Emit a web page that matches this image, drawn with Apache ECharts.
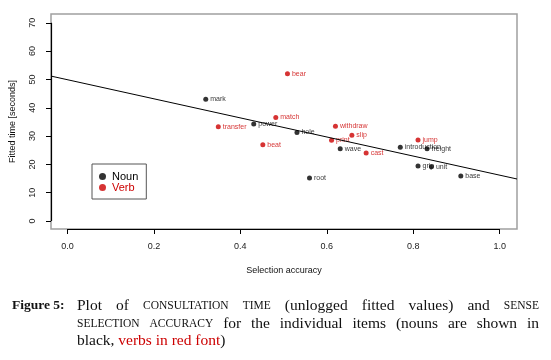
<!DOCTYPE html>
<html>
<head>
<meta charset="utf-8">
<script src="https://cdn.jsdelivr.net/npm/echarts@6/dist/echarts.min.js"></script>
<style>
    html, body { margin: 0; padding: 0; background: #fff; }
    #chart { width: 551px; height: 360px; }
</style>
</head>
<body>
<div id="chart"></div>
<script>
// data
const nounWords = ['mark', 'power', 'hole', 'wave', 'introduction', 'freight', 'grip', 'unit', 'base', 'root'];
const nounX = [0.320, 0.431, 0.531, 0.631, 0.770, 0.832, 0.811, 0.842, 0.910, 0.560];
const nounY = [43.0, 34.3, 31.3, 25.5, 26.1, 25.5, 19.4, 19.2, 15.9, 15.2];

const verbWords = ['transfer', 'match', 'bear', 'withdraw', 'slip', 'print', 'cast', 'jump', 'beat'];
const verbX = [0.349, 0.482, 0.509, 0.620, 0.658, 0.611, 0.691, 0.811, 0.452];
const verbY = [33.3, 36.6, 52.0, 33.5, 30.3, 28.5, 24.0, 28.6, 26.9];

const xTicks = [0, 0.2, 0.4, 0.6, 0.8, 1.0];
const yTicks = [0, 10, 20, 30, 40, 50, 60, 70];

// fitted regression line (intercept, slope)
const fitB0 = 49.9;
const fitB1 = -33.7;

const xMin = -0.038, xMax = 1.04;
const yMin = -2.8, yMax = 73.1;

const RED = '#cc0000';
const SANS = '"Liberation Sans", Arial, sans-serif';
const SERIF = '"Liberation Serif", "DejaVu Serif", serif';

let chart = echarts.init(document.querySelector('#chart'));

function pts(words, xs, ys) {
    return words.map((w, i) => [xs[i], ys[i], w]);
}

// caption: justified lines, words placed by measuring
let measure = document.createElement('canvas').getContext('2d');
function fontStr(s) {
    return (s.bold ? 'bold ' : '') + s.size + 'px ' + SERIF;
}
function captionLine(words, y, x0, x1, justify) {
    let out = [];
    let widths = words.map(w => { measure.font = fontStr(w); return measure.measureText(w.t).width; });
    let total = widths.reduce((a, b) => a + b, 0);
    let gap = justify ? (x1 - x0 - total) / (words.length - 1) : 0;
    let x = x0;
    words.forEach((w, i) => {
        out.push({
            type: 'text', x: x, y: y,
            style: { text: w.t, fill: w.c || '#111', fontSize: w.size, fontWeight: w.bold ? 'bold' : 'normal',
                     fontFamily: SERIF, verticalAlign: 'middle' }
        });
        x += widths[i] + gap;
    });
    return out;
}
const N = 15.5, SC = 11.5;
let line1 = [
    { t: 'Plot', size: N }, { t: 'of', size: N }, { t: 'CONSULTATION', size: SC }, { t: 'TIME', size: SC },
    { t: '(unlogged', size: N }, { t: 'fitted', size: N }, { t: 'values)', size: N }, { t: 'and', size: N },
    { t: 'SENSE', size: SC }
];
let line2 = [
    { t: 'SELECTION', size: SC }, { t: 'ACCURACY', size: SC }, { t: 'for', size: N }, { t: 'the', size: N },
    { t: 'individual', size: N }, { t: 'items', size: N }, { t: '(nouns', size: N }, { t: 'are', size: N },
    { t: 'shown', size: N }, { t: 'in', size: N }
];
let line3 = [
    { t: 'black, ', size: N }, { t: 'verbs in red font', size: N, c: RED }, { t: ')', size: N }
];
let graphics = [].concat(
    captionLine([{ t: 'Figure 5:', size: 13.5, bold: true }], 306, 12, 0, false),
    captionLine(line1, 306, 77, 539, true),
    captionLine(line2, 323.6, 77, 539, true),
    captionLine(line3, 341, 77, 0, false)
);

let option = {
    animation: false,
    textStyle: { fontFamily: SANS },
    grid: {
        left: 49, right: 34, top: 14, bottom: 131,
        show: true, borderColor: '#a0a0a0', borderWidth: 1.5, backgroundColor: '#fff'
    },
    legend: {
        left: 92, top: 164,
        orient: 'vertical',
        borderColor: '#555', borderWidth: 1,
        padding: [7, 8, 6, 7],
        itemWidth: 7, itemHeight: 7, itemGap: 0,
        icon: 'circle',
        textStyle: { fontSize: 11, fontFamily: SANS, padding: [0, 0, 0, 1] },
        data: [
            { name: 'Noun', textStyle: { color: '#000' } },
            { name: 'Verb', textStyle: { color: RED } }
        ]
    },
    xAxis: {
        type: 'value', min: xMin, max: xMax,
        name: 'Selection accuracy', nameLocation: 'middle', nameGap: 37,
        nameTextStyle: { fontSize: 9, color: '#111', fontFamily: SANS },
        splitLine: { show: false },
        axisLine: { show: false, onZero: false },
        axisTick: { show: true, length: 5, customValues: xTicks, lineStyle: { color: '#000' } },
        axisLabel: { customValues: xTicks, margin: 13, fontSize: 9, color: '#222',
                     formatter: v => v.toFixed(1) }
    },
    yAxis: {
        type: 'value', min: yMin, max: yMax,
        name: 'Fitted time [seconds]', nameLocation: 'middle', nameGap: 34,
        nameTextStyle: { fontSize: 9, color: '#111', fontFamily: SANS },
        splitLine: { show: false },
        axisLine: { show: false, onZero: false },
        axisTick: { show: true, length: 5, customValues: yTicks, lineStyle: { color: '#000' } },
        axisLabel: { customValues: yTicks, margin: 14, fontSize: 9, color: '#222', rotate: 90 }
    },
    series: [
        {
            name: 'fit', type: 'line', symbol: 'none', silent: true,
            data: [[xMin, fitB0 + fitB1 * xMin], [xMax, fitB0 + fitB1 * xMax]],
            lineStyle: { color: '#000', width: 1 },
            markLine: {
                silent: true, symbol: 'none', label: { show: false },
                lineStyle: { color: '#000', width: 1.2, type: 'solid' },
                data: [
                    [{ coord: [xMin, yTicks[0]] }, { coord: [xMin, yTicks[yTicks.length - 1]] }],
                    [{ coord: [xTicks[0], yMin] }, { coord: [xTicks[xTicks.length - 1], yMin] }]
                ]
            }
        },
        {
            name: 'Noun', type: 'scatter', symbolSize: 5,
            itemStyle: { color: '#000' },
            data: pts(nounWords, nounX, nounY),
            label: { show: true, position: 'right', distance: 2, fontSize: 7, color: '#000',
                     fontFamily: SANS, formatter: p => p.value[2] }
        },
        {
            name: 'Verb', type: 'scatter', symbolSize: 5,
            itemStyle: { color: RED },
            data: pts(verbWords, verbX, verbY),
            label: { show: true, position: 'right', distance: 2, fontSize: 7, color: RED,
                     fontFamily: SANS, formatter: p => p.value[2] }
        }
    ],
    graphic: graphics
};

chart.setOption(option);
</script>
</body>
</html>
